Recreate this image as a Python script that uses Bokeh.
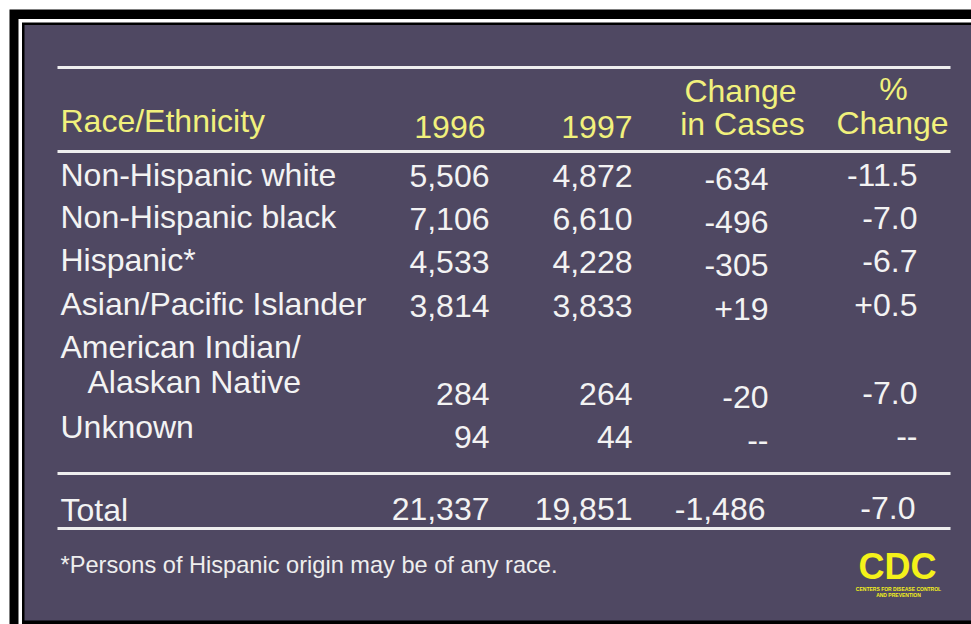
from bokeh.plotting import figure
from bokeh.models import Range1d
from bokeh.core.properties import value
from bokeh.embed import file_html
from bokeh.resources import INLINE

# ---- data ----
categories = ["Non-Hispanic white", "Non-Hispanic black", "Hispanic*",
              "Asian/Pacific Islander", "American Indian/\nAlaskan Native", "Unknown"]
cases_1996 = [5506, 7106, 4533, 3814, 284, 94]
cases_1997 = [4872, 6610, 4228, 3833, 264, 44]
change_cases = ["-634", "-496", "-305", "+19", "-20", "--"]
pct_change = ["-11.5", "-7.0", "-6.7", "+0.5", "-7.0", "--"]
total_label = "Total"
total_1996 = 21337
total_1997 = 19851
total_change = "-1,486"
total_pct = "-7.0"
headers = ["Race/Ethnicity", "1996", "1997", "Change\nin Cases", "%\nChange"]
footnote = "*Persons of Hispanic origin may be of any race."

# ---- layout (pixel coordinates, y downward) ----
W, H = 971, 624
FONT = value("Liberation Sans")
BG = "#4f4862"
YEL = "#f1f17c"
WHT = "#f3f3f3"
FS = "32px"

label_y = [174, 216, 259, 303, 346, 426]
value_y = [175, 218, 261, 305, 393, 436]
second_line_dy = 35
col_right = [489, 632, 768, 917]

p = figure(width=W, height=H, x_range=Range1d(0, W), y_range=Range1d(H, 0),
           output_backend="svg", toolbar_location=None, min_border=0,
           background_fill_color="white", border_fill_color="white")
p.axis.visible = False
p.grid.visible = False
p.outline_line_color = None

# frame
p.quad(left=[9], right=[W + 5], top=[9], bottom=[H + 5], fill_color="black", line_color=None)
p.quad(left=[18], right=[W + 5], top=[18.5], bottom=[H + 5], fill_color="white", line_color=None)
p.quad(left=[21.5], right=[W + 5], top=[22], bottom=[H + 5], fill_color="black", line_color=None)
p.quad(left=[24], right=[W + 5], top=[24.5], bottom=[620], fill_color=BG, line_color=None)

# rules
for yy in [67, 151, 473, 528]:
    p.segment(x0=[57], y0=[yy], x1=[950], y1=[yy], line_color="#eeeeee", line_width=3)

def txt(x, y, t, align="left", color=WHT, size=FS, style="normal", font=FONT):
    p.text(x=[x], y=[y], text=[t], text_align=align, text_baseline="middle",
           text_color=color, text_font_size=size, text_font=font, text_font_style=style)

# headers
txt(60, 120, headers[0], color=YEL)
txt(485, 126, headers[1], align="right", color=YEL)
txt(632, 126, headers[2], align="right", color=YEL)
h3 = headers[3].split("\n")
txt(740, 90, h3[0], align="center", color=YEL)
txt(742, 123, h3[1], align="center", color=YEL)
h4 = headers[4].split("\n")
txt(893, 88, h4[0], align="center", color=YEL)
txt(892, 122, h4[1], align="center", color=YEL)

# body rows
for i, cat in enumerate(categories):
    parts = cat.split("\n")
    txt(60, label_y[i], parts[0])
    if len(parts) > 1:
        txt(87, label_y[i] + second_line_dy, parts[1])
    vy = value_y[i]
    txt(col_right[0], vy, f"{cases_1996[i]:,}", align="right")
    txt(col_right[1], vy, f"{cases_1997[i]:,}", align="right")
    txt(col_right[2], vy + 3, change_cases[i], align="right")
    txt(col_right[3], vy - 1, pct_change[i], align="right")

# total row
txt(60, 509, total_label)
txt(col_right[0], 508, f"{total_1996:,}", align="right")
txt(col_right[1], 508, f"{total_1997:,}", align="right")
txt(col_right[2] - 3, 508, total_change, align="right")
txt(col_right[3] - 2, 507, total_pct, align="right")

# footnote
txt(60, 564, footnote, size="23.6px", color="#eeeeee")

# CDC logo
CDCY = "#f4f21a"
txt(897, 566, "CDC", align="center", color=CDCY, size="36px", style="bold")
txt(898, 588, "CENTERS FOR DISEASE CONTROL", align="center", color=CDCY, size="5px", style="bold")
txt(898, 594, "AND PREVENTION", align="center", color=CDCY, size="5px", style="bold")

open("out.html", "w").write(file_html(p, INLINE))
